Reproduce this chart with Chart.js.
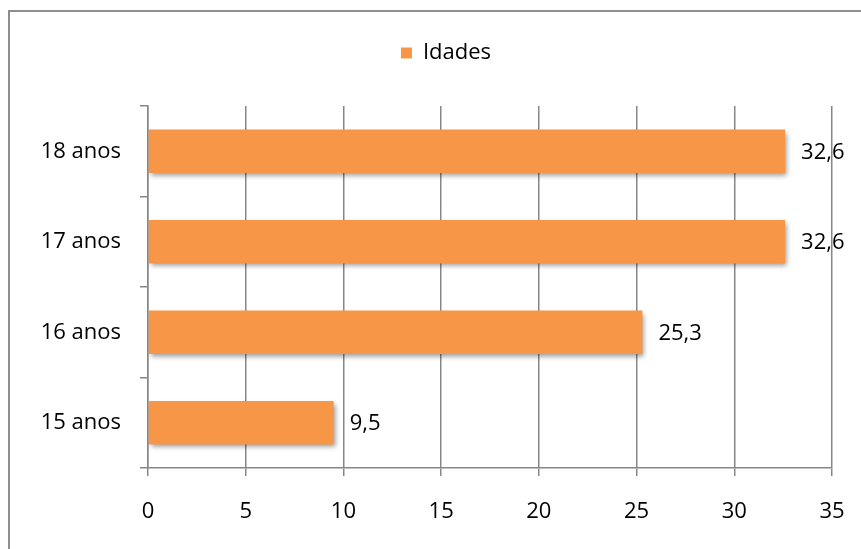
<!DOCTYPE html>
<html>
<head>
<meta charset="utf-8">
<script src="https://cdn.jsdelivr.net/npm/chart.js@4/dist/chart.umd.min.js"></script>
<style>
  html, body { margin: 0; padding: 0; background: #ffffff; }
  #wrap { width: 861px; height: 549px; position: relative; }
</style>
</head>
<body>
<div id="wrap"><canvas id="c" width="861" height="549"></canvas></div>
<script>
const categories = ["18 anos", "17 anos", "16 anos", "15 anos"];
const seriesName = "Idades";
const values = [32.6, 32.6, 25.3, 9.5];
const xTicks = [0, 5, 10, 15, 20, 25, 30, 35];

const FONT = "'Open Sans', sans-serif";
const GRID = "#878787";
const ORANGE = "#F79646";

const framePlugin = {
  id: 'frame',
  beforeDraw(chart) {
    const ctx = chart.ctx;
    ctx.save();
    ctx.fillStyle = '#ffffff';
    ctx.fillRect(0, 0, chart.width, chart.height);
    ctx.strokeStyle = '#8e8e8e';
    ctx.lineWidth = 2;
    ctx.strokeRect(9, 11, chart.width + 20, chart.height + 20);
    ctx.restore();
  }
};

// move the legend box into the position used by the original
const legendShift = {
  id: 'legendShift',
  afterLayout(chart) {
    const lg = chart.legend;
    if (!lg) return;
    lg.left += 30; lg.right += 30;
    lg.top -= 32; lg.bottom -= 32;
  }
};

const shadowPlugin = {
  id: 'barShadow',
  beforeDatasetsDraw(chart) {
    const ctx = chart.ctx;
    ctx.save();
    ctx.shadowColor = 'rgba(0,0,0,0.40)';
    ctx.shadowBlur = 5;
    ctx.shadowOffsetX = 2;
    ctx.shadowOffsetY = 3;
  },
  afterDatasetsDraw(chart) {
    chart.ctx.restore();
  }
};

const labelPlugin = {
  id: 'valueLabels',
  afterDatasetsDraw(chart) {
    const ctx = chart.ctx;
    ctx.save();
    ctx.font = "22px " + FONT;
    ctx.fillStyle = '#000000';
    ctx.textAlign = 'left';
    ctx.textBaseline = 'middle';
    chart.getDatasetMeta(0).data.forEach((bar, i) => {
      const txt = String(values[i]).replace('.', ',');
      ctx.fillText(txt, bar.x + 16, bar.y + 1);
    });
    ctx.restore();
  }
};

new Chart(document.getElementById('c'), {
  type: 'bar',
  data: {
    labels: categories,
    datasets: [{
      label: seriesName,
      data: values,
      backgroundColor: ORANGE,
      borderWidth: 0,
      categoryPercentage: 1.0,
      barPercentage: 0.48
    }]
  },
  options: {
    indexAxis: 'y',
    responsive: false,
    animation: false,
    devicePixelRatio: 1,
    layout: { padding: { top: 64, right: 29, left: 0, bottom: 0 } },
    plugins: {
      legend: {
        display: true,
        position: 'top',
        labels: {
          font: { family: FONT, size: 22 },
          color: '#000000',
          boxWidth: 11,
          boxHeight: 11,
          padding: 10
        }
      },
      tooltip: { enabled: false }
    },
    scales: {
      x: {
        min: 0,
        max: 35,
        afterBuildTicks(scale) { scale.ticks = xTicks.map(v => ({ value: v })); },
        ticks: {
          font: { family: FONT, size: 22 },
          color: '#000000',
          padding: 23,
          callback: (v) => String(v)
        },
        grid: {
          color: GRID,
          lineWidth: 1.5,
          drawOnChartArea: true,
          drawTicks: true,
          tickLength: 8
        },
        border: { display: true, color: GRID, width: 1.5 },
        afterFit(scale) {
          scale.height = 81;
          scale.paddingRight = 0;
          scale.paddingLeft = 0;
        }
      },
      y: {
        ticks: {
          font: { family: FONT, size: 22 },
          color: '#000000',
          padding: 19
        },
        grid: {
          color: GRID,
          lineWidth: 1.5,
          drawOnChartArea: false,
          drawTicks: true,
          tickLength: 8,
          offset: true
        },
        border: { display: true, color: GRID, width: 1.5 },
        afterFit(scale) { scale.width = 148; }
      }
    }
  },
  plugins: [framePlugin, legendShift, shadowPlugin, labelPlugin]
});
</script>
</body>
</html>
